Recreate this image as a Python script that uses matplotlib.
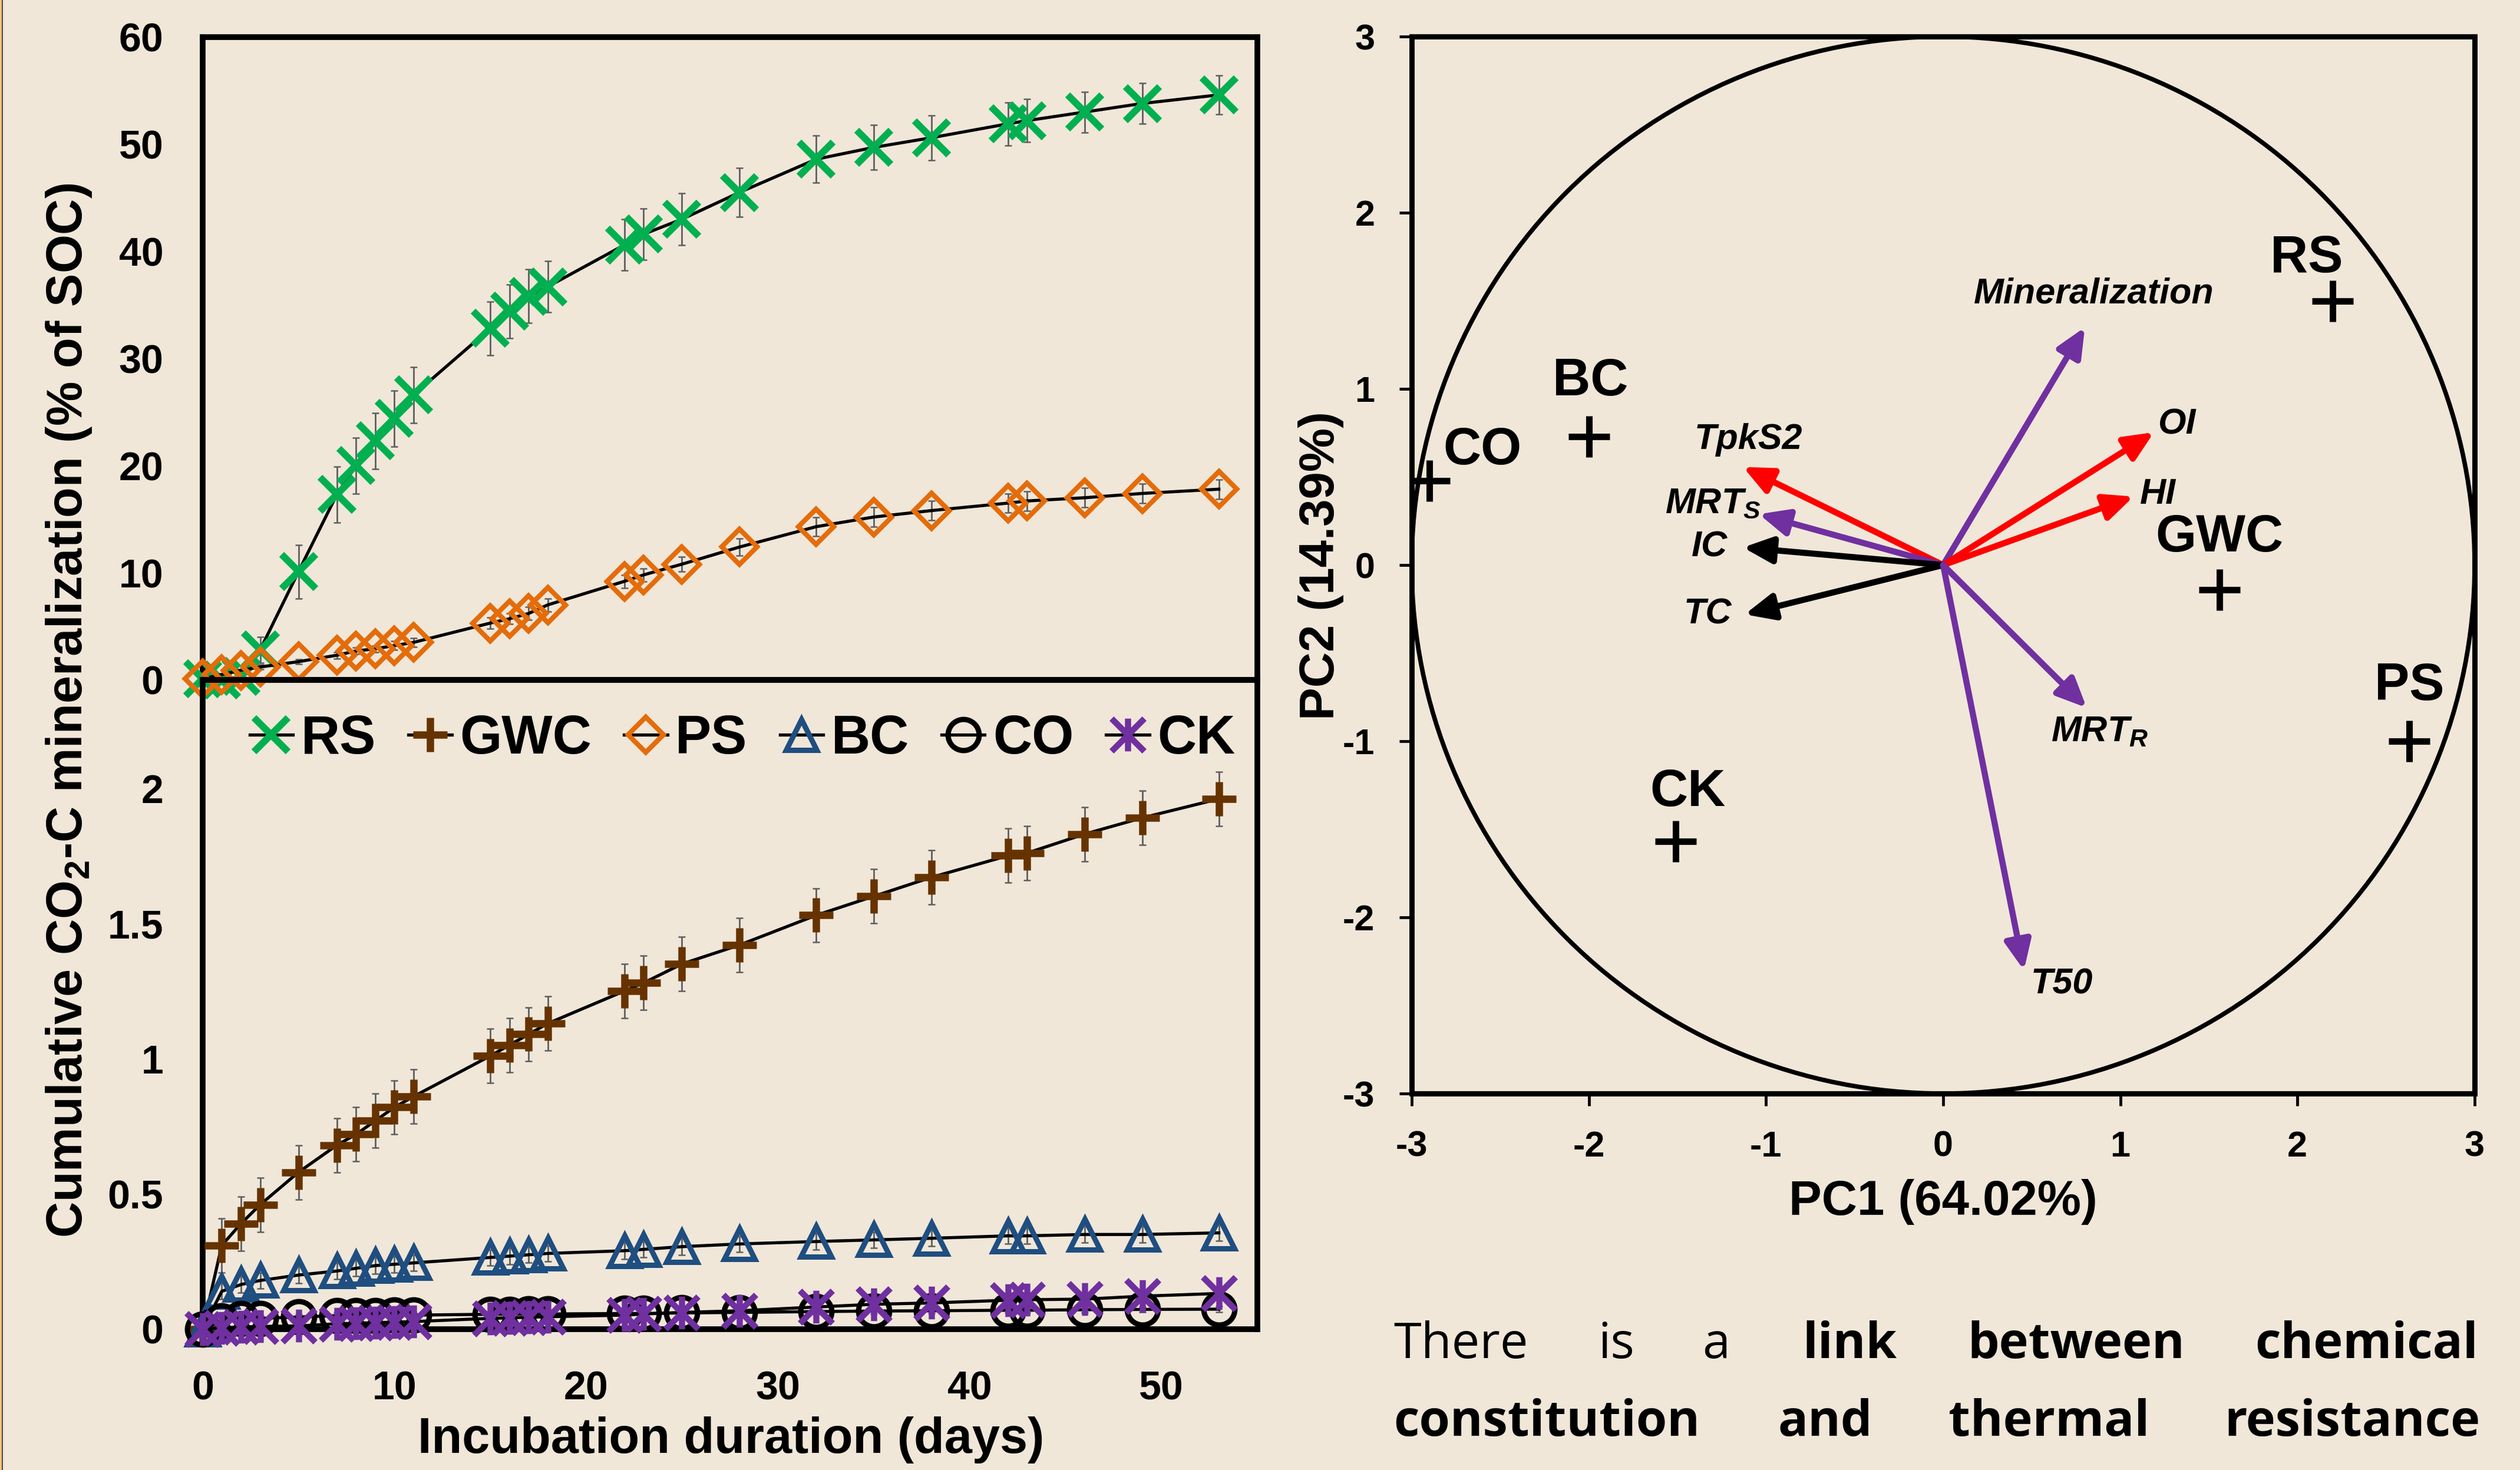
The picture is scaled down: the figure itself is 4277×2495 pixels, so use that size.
import numpy as np
import matplotlib.pyplot as plt
from matplotlib.path import Path
from matplotlib.patches import Circle, Rectangle
from matplotlib.lines import Line2D

plt.rcParams['font.family'] = ['Liberation Sans', 'DejaVu Sans']
plt.rcParams['font.weight'] = 'bold'
plt.rcParams['axes.unicode_minus'] = False
plt.rcParams['mathtext.fontset'] = 'custom'
plt.rcParams['mathtext.rm'] = 'Liberation Sans:bold'
plt.rcParams['mathtext.bf'] = 'Liberation Sans:bold'
plt.rcParams['mathtext.it'] = 'Liberation Sans:italic:bold'

# incubation days and cumulative mineralization (% of SOC)
days = [0, 1, 2, 3, 5, 7, 8, 9, 10, 11, 15, 16, 17, 18, 22, 23, 25, 28, 32, 35, 38, 42, 43, 46, 49, 53]
rs = [0.1, 0.0, 0.3, 2.8, 10.1, 17.3, 20.0, 22.3, 24.4, 26.6, 32.8, 34.4, 35.8, 36.7,
      40.6, 41.6, 43.0, 45.5, 48.6, 49.7, 50.6, 51.9, 52.2, 53.0, 53.8, 54.6]
rs_err = [0.3, 0.3, 0.4, 1.2, 2.5, 2.6, 2.6, 2.6, 2.6, 2.6, 2.5, 2.5, 2.5, 2.4,
          2.4, 2.4, 2.4, 2.3, 2.2, 2.1, 2.1, 2.0, 2.0, 1.9, 1.9, 1.8]
ps = [0.1, 0.5, 0.9, 1.2, 1.7, 2.3, 2.7, 2.9, 3.2, 3.5, 5.3, 5.7, 6.2, 7.0,
      9.2, 9.8, 10.8, 12.4, 14.3, 15.2, 15.8, 16.5, 16.7, 17.0, 17.4, 17.8]
ps_err = [0.1, 0.1, 0.1, 0.2, 0.2, 0.3, 0.3, 0.3, 0.4, 0.4, 0.5, 0.5, 0.6, 0.6,
          0.6, 0.6, 0.7, 0.8, 0.9, 0.9, 0.9, 0.9, 0.9, 0.9, 0.9, 0.9]
gwc = [0.0, 0.31, 0.39, 0.46, 0.58, 0.68, 0.72, 0.77, 0.82, 0.86, 1.01, 1.05, 1.09, 1.13,
       1.25, 1.28, 1.35, 1.42, 1.53, 1.60, 1.67, 1.75, 1.76, 1.83, 1.89, 1.96]
gwc_err = [0.0] + [0.1] * 25
bc = [0.0, 0.14, 0.165, 0.18, 0.2, 0.215, 0.225, 0.235, 0.24, 0.245, 0.265, 0.27, 0.275, 0.28,
      0.29, 0.295, 0.305, 0.315, 0.324, 0.33, 0.336, 0.345, 0.345, 0.35, 0.35, 0.356]
bc_err = [0.0] + [0.03] * 25
co = [0.0, 0.03, 0.04, 0.04, 0.045, 0.05, 0.05, 0.05, 0.052, 0.052, 0.055, 0.055, 0.056, 0.056,
      0.058, 0.058, 0.06, 0.062, 0.065, 0.067, 0.068, 0.07, 0.07, 0.072, 0.073, 0.074]
co_err = [0.0] + [0.01] * 25
ck = [0.0, 0.005, 0.008, 0.01, 0.012, 0.02, 0.022, 0.024, 0.026, 0.028, 0.04, 0.042, 0.044, 0.046,
      0.052, 0.056, 0.062, 0.068, 0.082, 0.092, 0.097, 0.107, 0.109, 0.111, 0.122, 0.132]
ck_err = [0.0] + [0.015] * 25

# PCA scores and loadings
samples = ['RS', 'BC', 'CO', 'GWC', 'PS', 'CK']
pc1 = [2.20, -2.00, -2.90, 1.56, 2.63, -1.51]
pc2 = [1.50, 0.73, 0.48, -0.14, -1.00, -1.57]
variables = ['Mineralization', 'OI', 'HI', 'TpkS2', 'MRT$_{\\mathit{S}}$', 'IC', 'TC', 'MRT$_{\\mathit{R}}$', 'T50']
load1 = [0.80, 1.19, 1.075, -1.13, -1.04, -1.13, -1.12, 0.81, 0.456]
load2 = [1.35, 0.754, 0.389, 0.557, 0.289, 0.10, -0.28, -0.81, -2.30]

bg = '#f0e7d9'
fig = plt.figure(figsize=(42.77, 24.95), dpi=100, facecolor=bg)

ax_top = fig.add_axes([0.0804, 0.5375, 0.4185, 0.4373])
ax_bot = fig.add_axes([0.0804, 0.0958, 0.4185, 0.4417])
ax_pca = fig.add_axes([0.5602, 0.2561, 0.4218, 0.7190])

star = Path([(0, -1), (0, 1), (-1, -1), (1, 1), (-1, 1), (1, -1)],
            [Path.MOVETO, Path.LINETO, Path.MOVETO, Path.LINETO, Path.MOVETO, Path.LINETO])


def draw(ax, y, err, marker, color, ms, mew, label):
    ax.errorbar(days, y, yerr=err, fmt='none', ecolor='#5f5f5f', elinewidth=2,
                capsize=4, capthick=1.8, zorder=2, clip_on=False)
    line, = ax.plot(days, y, color='k', lw=3.8, marker=marker, ms=ms, mec=color,
                    mfc='none', mew=mew, zorder=3, clip_on=False, label=label)
    return line


h_rs = draw(ax_top, rs, rs_err, 'x', '#00b050', 42, 8.5, 'RS')
h_ps = draw(ax_top, ps, ps_err, 'D', '#e46c0a', 31, 6, 'PS')
h_gwc = draw(ax_bot, gwc, gwc_err, '+', '#663300', 42, 9, 'GWC')
h_bc = draw(ax_bot, bc, bc_err, '^', '#1f4e80', 38, 6.5, 'BC')
h_co = draw(ax_bot, co, co_err, 'o', 'black', 38, 6.5, 'CO')
h_ck = draw(ax_bot, ck, ck_err, star, '#7030a0', 40, 7.5, 'CK')

for ax in (ax_top, ax_bot):
    ax.set_facecolor('none')
    ax.set_xlim(0, 55)
    for s in ax.spines.values():
        s.set_linewidth(7)
    ax.tick_params(length=0, labelsize=49, pad=48)

ax_top.set_ylim(0, 60)
ax_top.set_yticks(range(0, 61, 10))
ax_top.set_xticks([])

ax_bot.set_ylim(0, 2.4)
ax_bot.set_yticks([0, 0.5, 1, 1.5, 2])
ax_bot.set_yticklabels(['0', '0.5', '1', '1.5', '2'])
ax_bot.set_xticks(range(0, 51, 10))
ax_bot.tick_params(axis='x', pad=50)

ax_bot.legend([h_rs, h_gwc, h_ps, h_bc, h_co, h_ck], ['RS', 'GWC', 'PS', 'BC', 'CO', 'CK'],
              ncol=6, loc='center', bbox_to_anchor=(0.512, 0.908), frameon=False,
              fontsize=66, handlelength=0.8, handletextpad=0.15, columnspacing=0.6,
              borderpad=0, numpoints=1)

fig.text(0.0274, 0.5166, 'Cumulative CO$_{\\mathrm{2}}$-C mineralization (% of SOC)',
         rotation=90, ha='center', va='center', fontsize=61)
fig.text(0.2902, 0.0204, 'Incubation duration (days)', ha='center', va='center', fontsize=61)

# PCA biplot
ax_pca.set_facecolor('none')
ax_pca.set_xlim(-3, 3)
ax_pca.set_ylim(-3, 3)
ax_pca.set_xticks(range(-3, 4))
ax_pca.set_yticks(range(-3, 4))
for s in ax_pca.spines.values():
    s.set_linewidth(6.5)
ax_pca.tick_params(direction='out', length=15, width=3.5, labelsize=44, pad=30)
ax_pca.add_patch(Circle((0, 0), 3, fill=False, lw=5.5, ec='black', clip_on=False))

arrow_colors = ['#7030a0', 'red', 'red', 'red', '#7030a0', 'black', 'black', '#7030a0', '#7030a0']
for x, y, c in zip(load1, load2, arrow_colors):
    ax_pca.annotate('', xy=(x, y), xytext=(0, 0),
                    arrowprops=dict(arrowstyle='-|>,head_length=1.0,head_width=0.45',
                                    color=c, lw=7.5, mutation_scale=30, shrinkA=0, shrinkB=0))

var_pos = [(0.85, 1.54, 'center'), (1.21, 0.795, 'left'), (1.11, 0.40, 'left'),
           (-1.10, 0.71, 'center'), (-1.57, 0.35, 'left'), (-1.32, 0.10, 'center'),
           (-1.33, -0.28, 'center'), (0.61, -0.95, 'left'), (0.67, -2.38, 'center')]
for name, (x, y, ha) in zip(variables, var_pos):
    ax_pca.text(x, y, name, ha=ha, va='center', fontsize=44, fontstyle='italic')

ax_pca.plot(pc1, pc2, ls='none', marker='+', ms=50, mew=8, color='black')
lab_pos = [(2.05, 1.74), (-1.99, 1.04), (-2.60, 0.65), (1.56, 0.155), (2.63, -0.69), (-1.44, -1.29)]
for name, (x, y) in zip(samples, lab_pos):
    ax_pca.text(x, y, name, ha='center', va='center', fontsize=64)

fig.text(0.5242, 0.6152, 'PC2 (14.39%)', rotation=90, ha='center', va='center', fontsize=60)
fig.text(0.7711, 0.1824, 'PC1 (64.02%)', ha='center', va='center', fontsize=60)

# justified caption below the biplot
line1 = [('There', 2479, 'normal'), ('is', 2743, 'normal'), ('a', 2913, 'normal'),
         ('link', 3139, 'bold'), ('between', 3524, 'bold'), ('chemical', 4017, 'bold')]
line2 = [('constitution', 2625, 'bold'), ('and', 3098, 'bold'),
         ('thermal', 3478, 'bold'), ('resistance', 3992, 'bold')]
for words, base in ((line1, 2305), (line2, 2437)):
    for w, xc, wt in words:
        fig.text(xc / 4277, 1 - base / 2495, w, ha='center', va='baseline',
                 fontsize=61, fontweight=wt, family=['Open Sans', 'DejaVu Sans'])

# thin slide border on the left edge
fig.add_artist(Rectangle((0, 0), 3 / 4277, 1, transform=fig.transFigure, color='#f2c07c', lw=0))
fig.add_artist(Line2D([3.8 / 4277, 3.8 / 4277], [0, 1], transform=fig.transFigure, color='#3a3a3a', lw=1.3))

fig.savefig('out.png', dpi=100, facecolor=bg)
